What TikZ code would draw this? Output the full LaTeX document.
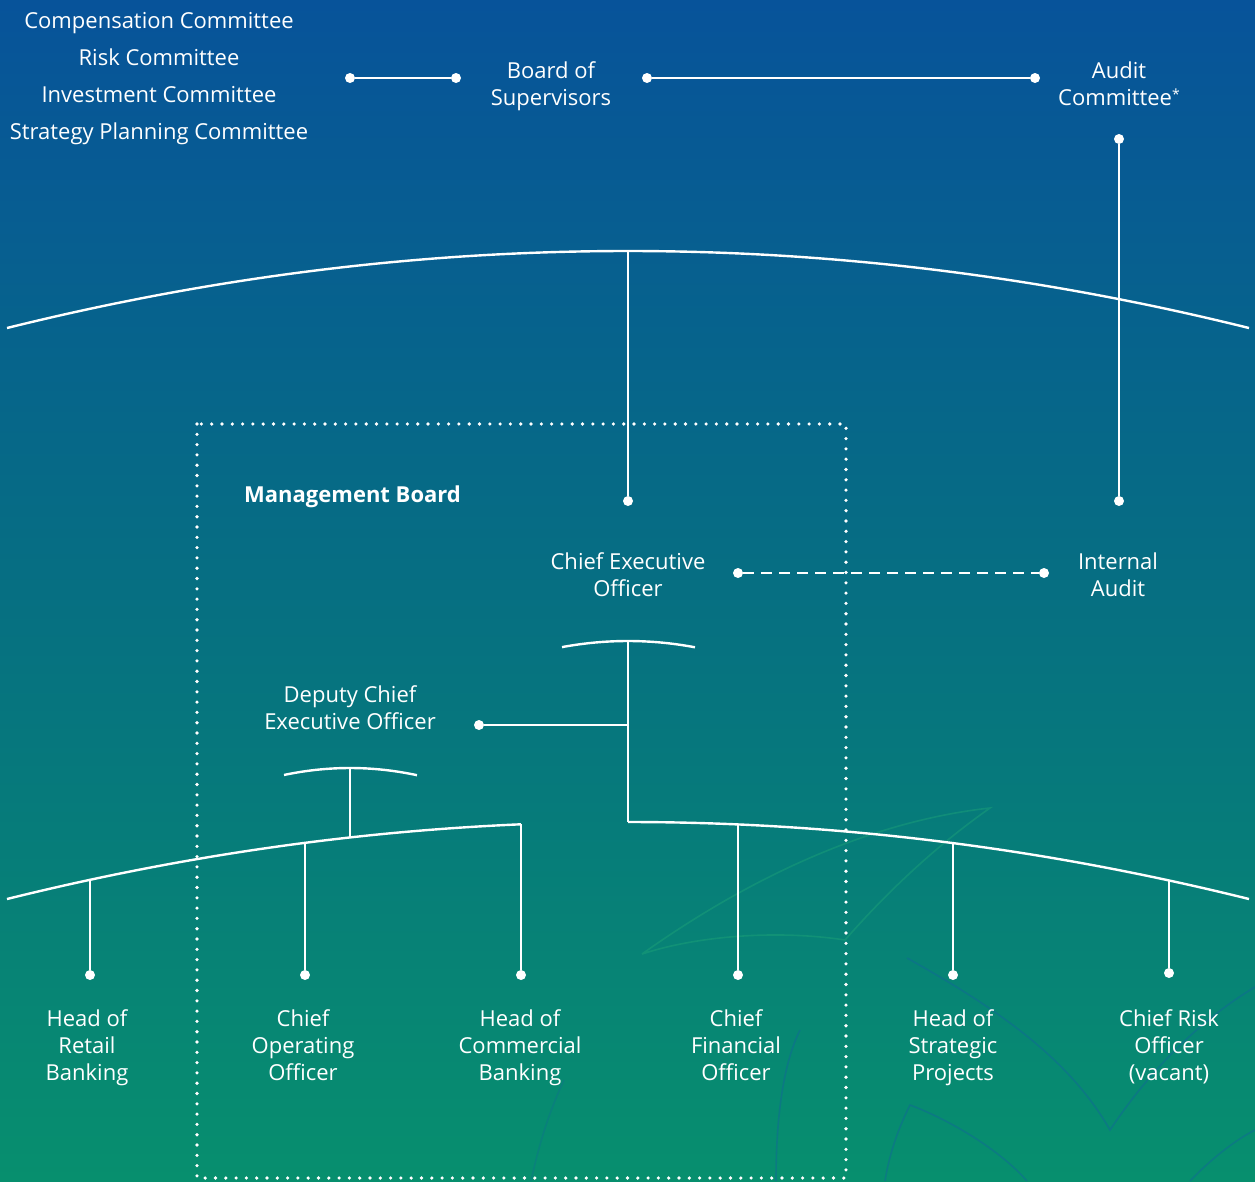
\documentclass[tikz,border=0pt]{standalone}
\usepackage{fontspec}
\setmainfont{Open Sans}
\usetikzlibrary{calc}
\definecolor{bgtop}{HTML}{07539A}
\definecolor{bgmid}{HTML}{066F82}
\definecolor{bgbot}{HTML}{078F6E}
\definecolor{decogreen}{HTML}{20A878}
\definecolor{decoblue}{HTML}{1460A0}
\begin{document}
\begin{tikzpicture}[x=1pt,y=-1pt,
  conn/.style={draw=white,line width=2.4pt},
  endpt/.style={circle,fill=white,inner sep=0pt,minimum size=10pt},
  lbl/.style={text=white,align=center,anchor=base,inner sep=0pt,font=\fontsize{22}{27}\selectfont},
  deco/.style={line width=1.6pt,opacity=0.4}]
\useasboundingbox (0,0) rectangle (1255,1181);
\shade[top color=bgtop,bottom color=bgbot,middle color=bgmid] (0,0) rectangle (1255,1181);

% faint decorations
\draw[deco,decogreen] (642,954) .. controls (760,870) and (880,820) .. (990,808)
  .. controls (930,850) and (880,900) .. (845,940)
  .. controls (780,930) and (700,935) .. (642,954);
\draw[deco,decoblue] (907,958) .. controls (1000,1010) and (1070,1060) .. (1110,1130)
  .. controls (1150,1070) and (1200,1020) .. (1255,987);
\draw[deco,decoblue] (885,1181) .. controls (890,1150) and (900,1125) .. (910,1105)
  .. controls (950,1120) and (1000,1150) .. (1027,1181);
\draw[deco,decoblue] (1190,1181) .. controls (1210,1160) and (1235,1140) .. (1255,1130);
\draw[deco,decoblue] (776,1181) .. controls (776,1110) and (785,1060) .. (800,1030);
\draw[deco,decoblue,opacity=0.25] (531,1181) .. controls (540,1140) and (550,1110) .. (564,1080);

% dotted management box
\draw[white,line width=3.6pt,line cap=round,dash pattern=on 0pt off 10.3pt]
  (197,424) rectangle (846,1178);

% text nodes (anchored at baseline of last line)
\node[lbl,font=\fontsize{22}{37}\selectfont] (committees) at (159,139)
  {Compensation Committee\\Risk Committee\\Investment Committee\\Strategy Planning Committee};
\node[lbl] (board) at (551,105) {Board of\\Supervisors};
\node[lbl] (audit) at (1119,105) {Audit\\Committee\raisebox{6pt}{\fontsize{14}{14}\selectfont*}};
\node[lbl,anchor=base west,font=\fontsize{22}{27}\selectfont\bfseries] (mb) at (244,502) {Management Board};
\node[lbl] (ceo) at (628,596) {Chief Executive\\Officer};
\node[lbl] (ia) at (1118,596) {Internal\\Audit};
\node[lbl] (dceo) at (350,729) {Deputy Chief\\Executive Officer};
\node[lbl] (hrb) at (87,1080) {Head of\\Retail\\Banking};
\node[lbl] (coo) at (303,1080) {Chief\\Operating\\Officer};
\node[lbl] (hcb) at (520,1080) {Head of\\Commercial\\Banking};
\node[lbl] (cfo) at (736,1080) {Chief\\Financial\\Officer};
\node[lbl] (hsp) at (953,1080) {Head of\\Strategic\\Projects};
\node[lbl] (cro) at (1169,1080) {Chief Risk\\Officer\\(vacant)};

% end points
\node[endpt] (c1) at (350,78) {};
\node[endpt] (c2) at (456,78) {};
\node[endpt] (b1) at (647,78) {};
\node[endpt] (b2) at (1035,78) {};
\node[endpt] (a1) at (1119,139) {};
\node[endpt] (a2) at (1119,501) {};
\node[endpt] (e1) at (628,501) {};
\node[endpt] (x1) at (738,573) {};
\node[endpt] (x2) at (1044,573) {};
\node[endpt] (d1) at (479,725) {};
\node[endpt] (p1) at (90,975) {};
\node[endpt] (p2) at (305,975) {};
\node[endpt] (p3) at (521,975) {};
\node[endpt] (p4) at (738,975) {};
\node[endpt] (p5) at (953,975) {};
\node[endpt] (p6) at (1169,973) {};

% arcs
\draw[conn] plot[domain=7:1249,samples=120] (\x,{251+((\x-628)/100)^2*1.9968});
\draw[conn] plot[domain=7:521,samples=60] (\x,{822+((\x-628)/100)^2*1.9968});
\draw[conn] plot[domain=628:1249,samples=60] (\x,{822+((\x-628)/100)^2*1.9968});
\draw[conn] plot[domain=562:695,samples=30] (\x,{641+((\x-628)/100)^2*14});
\draw[conn] plot[domain=284:417,samples=30] (\x,{768+((\x-350)/100)^2*16});

% named points on arcs
\coordinate (topapex) at (628,251);
\coordinate (capceo) at (628,641);
\coordinate (capd) at (350,768);
\coordinate (jd) at (628,725);
\coordinate (lowceo) at (628,822);
\coordinate (q1) at (90,{822+((90-628)/100)^2*1.9968});
\coordinate (q2) at (305,{822+((305-628)/100)^2*1.9968});
\coordinate (qd) at (350,{822+((350-628)/100)^2*1.9968});
\coordinate (q3) at (521,{822+((521-628)/100)^2*1.9968});
\coordinate (q4) at (738,{822+((738-628)/100)^2*1.9968});
\coordinate (q5) at (953,{822+((953-628)/100)^2*1.9968});
\coordinate (q6) at (1169,{822+((1169-628)/100)^2*1.9968});

% connectors
\draw[conn] (c1) -- (c2);
\draw[conn] (b1) -- (b2);
\draw[conn] (a1) -- (a2);
\draw[conn] (topapex) -- (e1);
\draw[white,line width=2.4pt,dash pattern=on 11pt off 7pt] (x1) -- (x2);
\draw[conn] (capceo) -- (lowceo);
\draw[conn] (jd) -- (d1);
\draw[conn] (capd) -- (qd);
\draw[conn] (q1) -- (p1);
\draw[conn] (q2) -- (p2);
\draw[conn] (q3) -- (p3);
\draw[conn] (q4) -- (p4);
\draw[conn] (q5) -- (p5);
\draw[conn] (q6) -- (p6);
\end{tikzpicture}
\end{document}
